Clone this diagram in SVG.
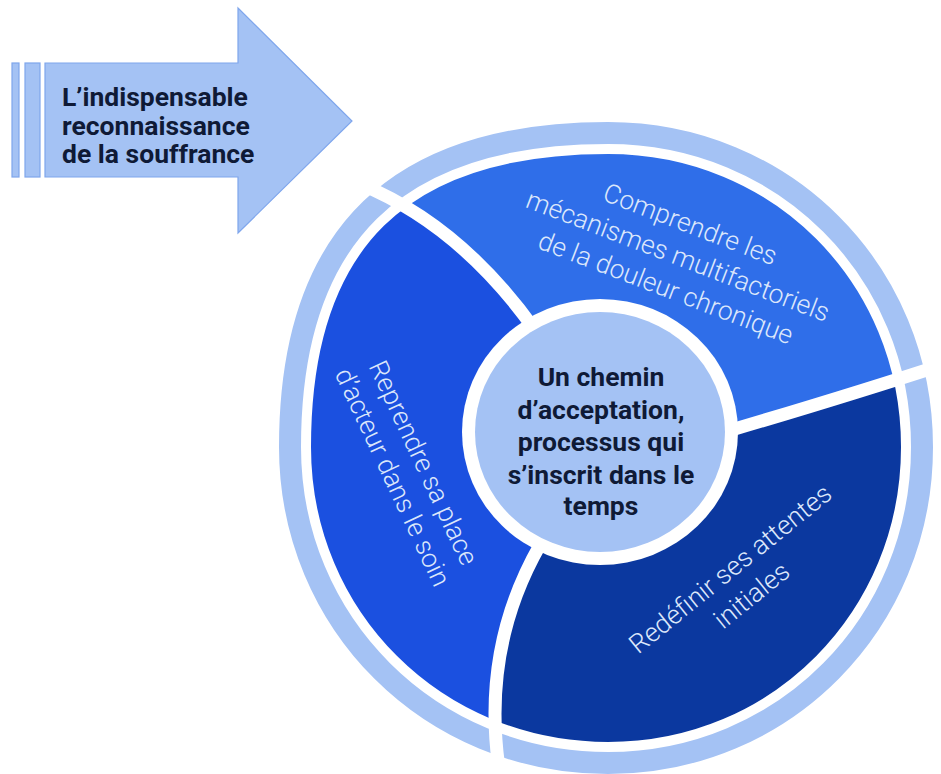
<svg xmlns="http://www.w3.org/2000/svg" width="941" height="774" viewBox="0 0 941 774">
<style>
.seg{font-family:Roboto,"Liberation Sans",sans-serif;font-weight:300;font-size:26.5px;fill:#dce7fb;text-anchor:middle}
.bold{font-family:Roboto,"Liberation Sans",sans-serif;font-weight:700;font-size:26.5px;fill:#0f1a36}
.gap{fill:none;stroke:#ffffff;stroke-width:13}
.light{fill:#a4c2f4}
.ring{fill:none;stroke:#a4c2f4;stroke-width:22}
.ringgap{fill:none;stroke:#ffffff;stroke-width:42}
</style>
<defs>
<clipPath id="segclip"><path d="M290 447 C290 236 395 133 608 133 C784 133 922 271 922 447 C922 623 784 763 608 763 C430 763 290 623 290 447 Z"/></clipPath>
</defs>
<rect width="941" height="774" fill="#ffffff"/>
<g id="arrow">
<rect x="12" y="63" width="7" height="114" class="light" stroke="#7fa6ec" stroke-width="1.2"/>
<rect x="25" y="63" width="15" height="114" class="light" stroke="#7fa6ec" stroke-width="1.2"/>
<path d="M45 63 L238 63 L238 8 L352 121 L238 233 L238 177 L45 177 Z" class="light" stroke="#7fa6ec" stroke-width="1.2"/>
<text class="bold" x="62" y="106">L’indispensable</text>
<text class="bold" x="62" y="134.5">reconnaissance</text>
<text class="bold" x="62" y="163">de la souffrance</text>
</g>
<g id="segments" clip-path="url(#segclip)">
<path id="seg-comprendre" fill="#2f6ee9" d="M600 432 L535 330 Q460 225 360 184 L200 100 L200 0 L1000 0 L1000 346 L945 364 Q850 395 728 431 Z"/>
<path id="seg-redefinir" fill="#0b389f" d="M600 432 L728 431 Q850 395 945 364 L1000 346 L1000 800 L504 800 L500 775 Q480 650 540 545 Z"/>
<path id="seg-reprendre" fill="#1b50e0" d="M600 432 L540 545 Q480 650 500 775 L504 800 L0 800 L0 100 L200 100 L360 184 Q460 225 535 330 Z"/>
</g>
<g id="outer-ring">
<path class="ringgap" d="M290 447 C290 236 395 133 608 133 C784 133 922 271 922 447 C922 623 784 763 608 763 C430 763 290 623 290 447 Z"/>
<path class="ring" d="M290 447 C290 236 395 133 608 133 C784 133 922 271 922 447 C922 623 784 763 608 763 C430 763 290 623 290 447 Z"/>
</g>
<g id="connectors">
<path class="gap" d="M328 171 L360 184 Q460 225 535 330 L556 362"/>
<path class="gap" d="M962 358 L945 364 Q850 395 728 431 L699 439"/>
<path class="gap" d="M549 530 L540 545 Q480 650 500 775 L502 790"/>
</g>
<g id="center">
<ellipse cx="600" cy="432" rx="138" ry="133" fill="#ffffff"/>
<ellipse cx="600" cy="432" rx="125" ry="120" class="light"/>
<text class="bold" text-anchor="middle" x="601" y="386">Un chemin</text>
<text class="bold" text-anchor="middle" x="601" y="418.5">d’acceptation,</text>
<text class="bold" text-anchor="middle" x="601" y="451">processus qui</text>
<text class="bold" text-anchor="middle" x="601" y="484">s’inscrit dans le</text>
<text class="bold" text-anchor="middle" x="601" y="515">temps</text>
</g>
<g id="label-comprendre" transform="translate(678 256) rotate(21)">
<text class="seg" x="0" y="-25">Comprendre les</text>
<text class="seg" x="0" y="9">mécanismes multifactoriels</text>
<text class="seg" x="0" y="43">de la douleur chronique</text>
</g>
<g id="label-reprendre" transform="translate(408 470) rotate(65)">
<text class="seg" x="0" y="-8">Reprendre sa place</text>
<text class="seg" x="0" y="26">d’acteur dans le soin</text>
</g>
<g id="label-redefinir" transform="translate(741 582) rotate(-39)">
<text class="seg" x="0" y="-8">Redéfinir ses attentes</text>
<text class="seg" x="0" y="26">initiales</text>
</g>
</svg>
